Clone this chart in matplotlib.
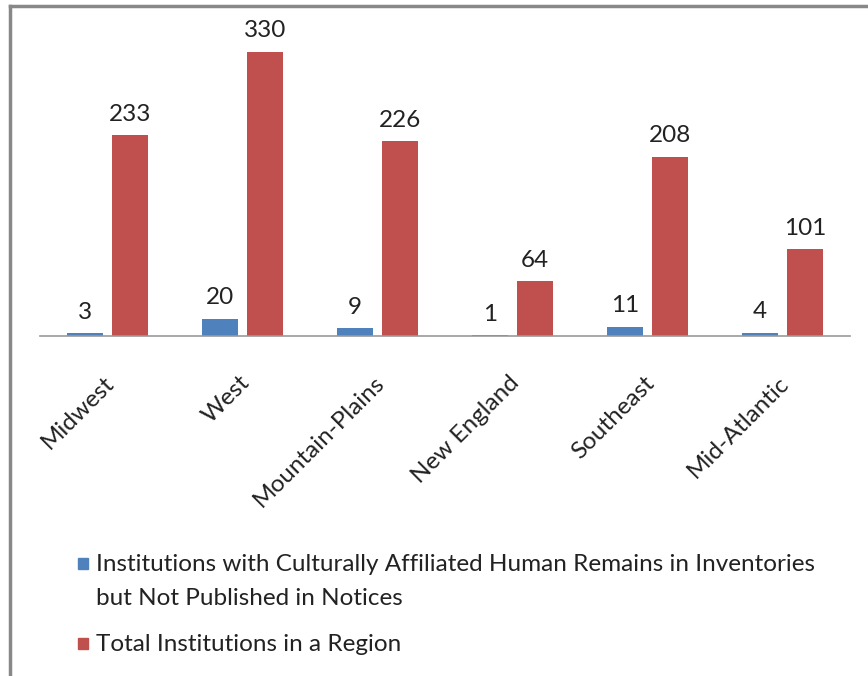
import matplotlib.pyplot as plt
from matplotlib.patches import Rectangle
from matplotlib.lines import Line2D
import numpy as np

plt.rcParams['font.family'] = ['Lato', 'DejaVu Sans']

regions = ['Midwest', 'West', 'Mountain-Plains', 'New England', 'Southeast', 'Mid-Atlantic']
not_published = [3, 20, 9, 1, 11, 4]
total = [233, 330, 226, 64, 208, 101]
legend_labels = ['Institutions with Culturally Affiliated Human Remains in Inventories\nbut Not Published in Notices',
                 'Total Institutions in a Region']

blue = '#4F81BD'
red = '#C0504D'

W, H = 868, 676
fig = plt.figure(figsize=(W / 100, H / 100), dpi=100)
ax = fig.add_axes([40 / W, (H - 336) / H, 810 / W, 330 / H])

x = np.arange(len(regions))
bw = 0.27
b1 = ax.bar(x - 0.165, not_published, bw, color=blue)
b2 = ax.bar(x + 0.165, total, bw, color=red)
for bars, vals in ((b1, not_published), (b2, total)):
    for r, v in zip(bars, vals):
        ax.text(r.get_x() + r.get_width() / 2, v + 12, str(v), ha='center', va='bottom',
                fontsize=17.5, color='#222222')

ax.set_xlim(-0.5, len(regions) - 0.5)
ax.set_ylim(0, 383)
ax.set_yticks([])
ax.set_xticks(x - 0.03)
ax.set_xticklabels(regions, rotation=45, ha='right', rotation_mode='anchor', fontsize=17.5, color='#222222')
ax.tick_params(axis='x', length=0, pad=26)
for s in ['top', 'right', 'left']:
    ax.spines[s].set_visible(False)
ax.spines['bottom'].set_color('#999999')
ax.spines['bottom'].set_linewidth(1.2)

# legend drawn by hand so the marker lines up with the first text line
colors = [blue, red]
ys = [564, 644]
for c, lab, yy in zip(colors, legend_labels, ys):
    fig.patches.append(Rectangle((78 / W, (H - yy - 5) / H), 10 / W, 11 / H, color=c,
                                 transform=fig.transFigure))
    fig.text(96 / W, (H - yy + 10) / H, lab, ha='left', va='top', fontsize=17.5,
             color='#222222', linespacing=1.75)

# outer chart frame (only top and left edges are visible)
fig.lines.append(Line2D([10 / W, 1], [(H - 6) / H] * 2, color='#888888', lw=2.5, transform=fig.transFigure))
fig.lines.append(Line2D([10 / W] * 2, [0, (H - 6) / H], color='#888888', lw=2.5, transform=fig.transFigure))

fig.savefig('out.png', dpi=100)
